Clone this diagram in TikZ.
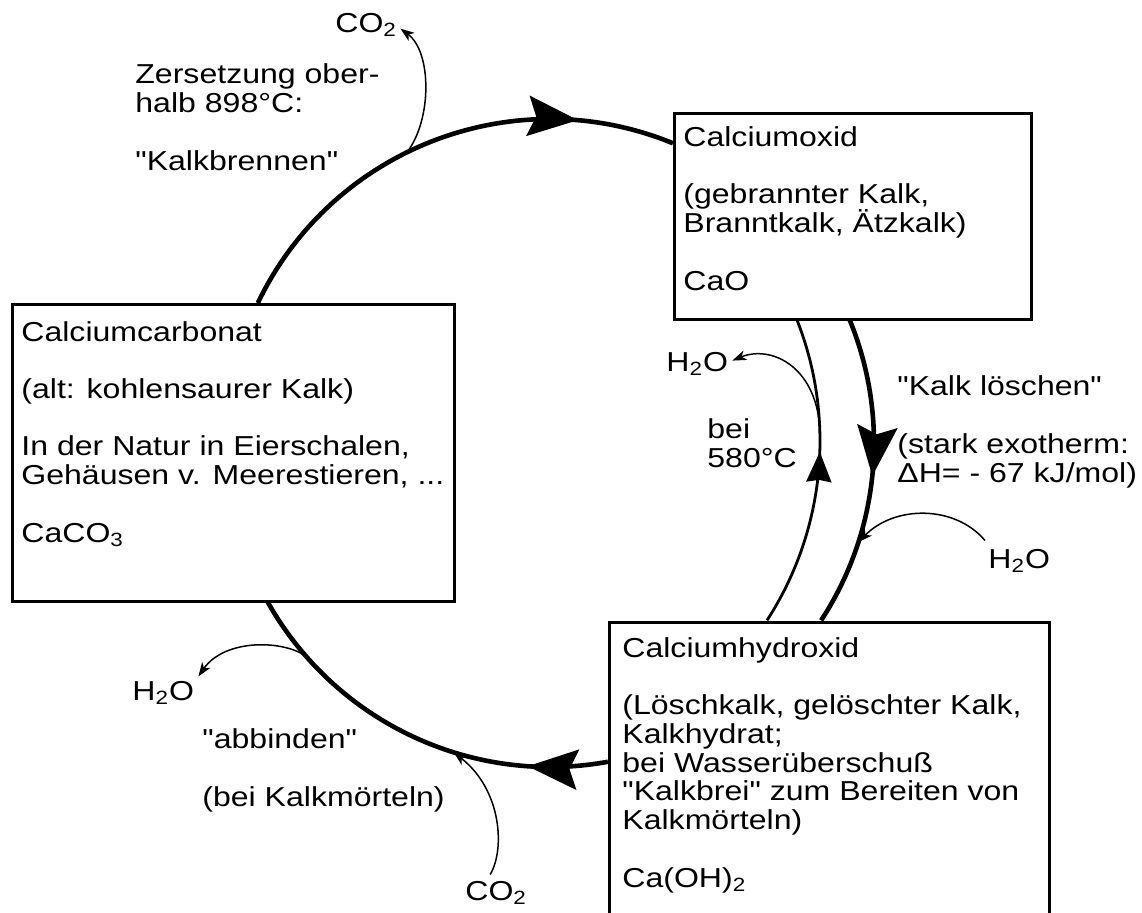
\documentclass[tikz,border=0pt]{standalone}
\usepackage{fontspec}
\setmainfont{Liberation Sans}[FakeStretch=1.17,Ligatures=TeXOff]
\usetikzlibrary{arrows.meta,decorations.markings}
\newcommand{\gapline}{\\[14.35pt]}
\tikzstyle{box}=[draw,line width=1.4pt,fill=white,anchor=north west,inner sep=0pt]
\tikzstyle{txt}=[anchor=base west,inner sep=0pt,align=left,font=\fontsize{13.7}{14.35}\selectfont]
\tikzstyle{cyc}=[line width=2.3pt]
\tikzstyle{aux}=[line width=0.75pt,-{Stealth[length=7pt,width=5pt,inset=2pt]}]
\tikzset{midarrow/.style={postaction={decorate},decoration={markings,
    mark=at position #1 with {\arrow{Stealth[length=25pt,width=20pt,inset=4pt]}}}},
  uparrow/.style={postaction={decorate},decoration={markings,
    mark=at position #1 with {\arrow{Stealth[length=15pt,width=12.5pt,inset=1pt]}}}}}

\begin{document}
\begin{tikzpicture}[x=0.5pt,y=-0.5pt]
  \useasboundingbox (0,0) rectangle (1142,912);
  \coordinate (ctr) at (550,443);
  \coordinate (ctr2) at (490,441);
  % cycle
  \path (ctr) ++(205.6:324) coordinate (c1);
  \path (ctr) ++(337.4:324) coordinate (c2);
  \path (ctr) ++(79.7:324) coordinate (c3);
  \path (ctr2) ++(32.9:330) coordinate (c4);
  \draw[cyc,midarrow=0.8] (c1) arc[start angle=205.6,end angle=292.3,radius=324];
  \draw[cyc,midarrow=0.51] (c2) arc[start angle=337.4,end angle=393.2,radius=324];
  \draw[cyc,midarrow=0.2] (c3) arc[start angle=79.7,end angle=151,radius=324];
  \draw[line width=1.4pt,uparrow=0.567] (c4) arc[start angle=32.9,end angle=-21.8,radius=330];
  % boxes
  \node[box,minimum width=221pt,minimum height=148.5pt] (caco3) at (11,303) {};
  \node[box,minimum width=178.5pt,minimum height=103pt] (cao) at (673,112) {};
  \node[box,minimum width=220pt,minimum height=175pt] (caoh) at (608,621) {};
  % texts, anchored on their last line
  \node[txt] (caco3txt) at (21,542) {Calciumcarbonat\gapline
    (alt: kohlensaurer Kalk)\gapline
    In der Natur in Eierschalen,\\Gehäusen v. Meerestieren, ...\gapline
    CaCO\textsubscript{3}};
  \node[txt] (caotxt) at (683,290) {Calciumoxid\gapline
    (gebrannter Kalk,\\Branntkalk, Ätzkalk)\gapline CaO};
  \node[txt] (caohtxt) at (622,887) {Calciumhydroxid\gapline
    (Löschkalk, gelöschter Kalk,\\Kalkhydrat;\\bei Wasserüberschuß\\
    "Kalkbrei" zum Bereiten von\\Kalkmörteln)\gapline Ca(OH)\textsubscript{2}};
  \node[txt] (brennen) at (135,170) {Zersetzung ober-\\halb 898°C:\gapline"Kalkbrennen"};
  \node[txt] (loeschen) at (897,482) {"Kalk löschen"\gapline(stark exotherm:\\ΔH= - 67 kJ/mol)};
  \node[txt] (bei) at (707,467) {bei\\580°C};
  \node[txt] (abbinden) at (202,806) {"abbinden"\gapline(bei Kalkmörteln)};
  \node[txt] (co2a) at (335,32) {CO\textsubscript{2}};
  \node[txt] (h2oa) at (666,371) {H\textsubscript{2}O};
  \node[txt] (h2ob) at (988,568) {H\textsubscript{2}O};
  \node[txt] (h2oc) at (132,700) {H\textsubscript{2}O};
  \node[txt] (co2b) at (465,900) {CO\textsubscript{2}};
  % side arrows
  \path (ctr) ++(243.8:324) coordinate (s1);
  \path (ctr2) ++(-2.5:330) coordinate (s2);
  \path (ctr) ++(17.8:324) coordinate (s3);
  \path (ctr) ++(138.7:324) coordinate (s4);
  \path (ctr) ++(107.3:324) coordinate (s5);
  \draw[aux] (s1) .. controls (432,120) and (432,52) .. ([shift={(3,4)}]co2a.east);
  \draw[aux] (s2) .. controls (815,365) and (770,345) .. ([shift={(4,-3)}]h2oa.east);
  \draw[aux] ([shift={(-3,-8)}]h2ob.north west) .. controls (955,505) and (895,505) .. (s3);
  \draw[aux] (s4) .. controls (285,640) and (225,638) .. ([shift={(4,-4)}]h2oc.north east);
  \draw[aux] ([shift={(-6,-6)}]co2b.north) .. controls (505,850) and (502,790) .. (s5);
\end{tikzpicture}
\end{document}
